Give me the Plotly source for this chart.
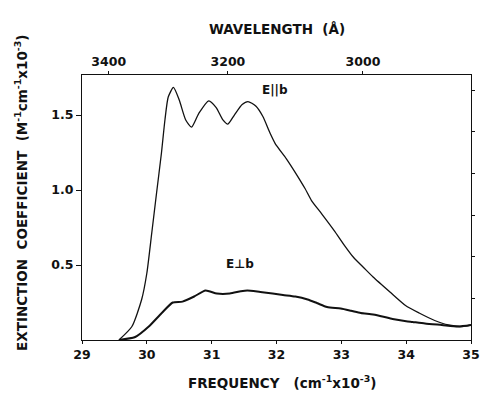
import plotly.graph_objects as go

# Data (frequency in cm^-1 x 10^-3, extinction in M^-1 cm^-1 x 10^-3)
freq_par = [29.57, 29.77, 29.92, 30.00, 30.075, 30.15, 30.225, 30.28, 30.33, 30.41,
            30.50, 30.60, 30.69, 30.80, 30.955, 31.07, 31.17, 31.25, 31.35,
            31.47, 31.56, 31.68, 31.79, 31.90, 31.98, 32.15, 32.30, 32.44, 32.54,
            32.70, 32.89, 33.05, 33.19, 33.35, 33.49, 33.75, 33.99, 34.20, 34.44,
            34.65, 34.85, 35.00]
eps_par = [0.00, 0.09, 0.27, 0.445, 0.71, 0.98, 1.245, 1.47, 1.62, 1.684,
           1.60, 1.467, 1.42, 1.51, 1.595, 1.55, 1.47, 1.44, 1.50,
           1.57, 1.59, 1.56, 1.49, 1.38, 1.31, 1.21, 1.11, 1.01, 0.93,
           0.84, 0.73, 0.63, 0.55, 0.48, 0.42, 0.32, 0.23, 0.18, 0.13,
           0.10, 0.09, 0.10]

freq_perp = [29.57, 29.82, 30.03, 30.23, 30.40, 30.55, 30.73, 30.905, 31.08,
             31.28, 31.45, 31.55, 31.75, 31.94, 32.10, 32.29,
             32.48, 32.63, 32.78, 32.99, 33.15, 33.30, 33.49, 33.65, 33.79, 34.00,
             34.10, 34.29, 34.55, 34.80, 35.00]
eps_perp = [0.00, 0.02, 0.09, 0.18, 0.25, 0.256, 0.29, 0.33, 0.31,
            0.31, 0.325, 0.33, 0.32, 0.31, 0.30, 0.29,
            0.27, 0.245, 0.22, 0.21, 0.195, 0.18, 0.17, 0.155, 0.14, 0.125,
            0.12, 0.11, 0.10, 0.09, 0.10]

freq_ticks = [29, 30, 31, 32, 33, 34, 35]
y_ticks = [0.5, 1.0, 1.5]
wavelength_ticks = [3400, 3200, 3000]
right_tick_vals = [0.28, 0.555, 0.833, 1.11, 1.39, 1.665]

FONT = "DejaVu Sans"
black = "#111111"

fig = go.Figure()
fig.add_trace(go.Scatter(x=freq_par, y=eps_par, mode="lines",
                         line=dict(color=black, width=1.3, shape="spline", smoothing=0.6),
                         showlegend=False))
fig.add_trace(go.Scatter(x=freq_perp, y=eps_perp, mode="lines",
                         line=dict(color=black, width=2.0, shape="spline", smoothing=0.6),
                         showlegend=False))
# invisible traces to activate top / right axes
fig.add_trace(go.Scatter(x=[freq_ticks[0]], y=[0], xaxis="x2", mode="markers",
                         marker=dict(opacity=0), showlegend=False, hoverinfo="skip"))
fig.add_trace(go.Scatter(x=[freq_ticks[0]], y=[0], yaxis="y2", mode="markers",
                         marker=dict(opacity=0), showlegend=False, hoverinfo="skip"))

xr = [freq_ticks[0], freq_ticks[-1]]
yr = [0, 1.767]
tickfont = dict(family=FONT, size=12.5, color=black, weight="bold")

fig.update_layout(
    width=491, height=397,
    margin=dict(l=82, r=11, t=75, b=57),
    paper_bgcolor="white", plot_bgcolor="white",
    xaxis=dict(range=xr, tickvals=freq_ticks, ticktext=[str(t) for t in freq_ticks],
               ticks="outside", ticklen=3, tickcolor=black, tickwidth=1,
               showline=True, linecolor=black, linewidth=1.3, showgrid=False,
               zeroline=False, tickfont=tickfont),
    xaxis2=dict(range=xr, overlaying="x", side="top",
                tickvals=[1e5 / w for w in wavelength_ticks],
                ticktext=[str(w) for w in wavelength_ticks],
                ticks="outside", ticklen=3, tickcolor=black,
                showline=True, linecolor=black, linewidth=1.3, showgrid=False,
                zeroline=False, tickfont=tickfont),
    yaxis=dict(range=yr, tickvals=y_ticks, ticktext=["%.1f" % v for v in y_ticks],
               ticks="outside", ticklen=5, tickcolor=black,
               showline=True, linecolor=black, linewidth=1.3, showgrid=False,
               zeroline=False, tickfont=tickfont),
    yaxis2=dict(range=yr, overlaying="y", side="right", tickvals=right_tick_vals,
                showticklabels=False, ticks="outside", ticklen=3, tickcolor=black,
                showline=True, linecolor=black, linewidth=1.3, showgrid=False,
                zeroline=False),
)

title_font = dict(family=FONT, size=13.5, color=black, weight="bold")
fig.add_annotation(text="WAVELENGTH\u00a0\u00a0(Å)", xref="paper", yref="paper",
                   x=0.5025, y=1.21, showarrow=False, font=title_font)
fig.add_annotation(text="FREQUENCY\u00a0\u00a0\u00a0(cm<sup>-1</sup>x10<sup>-3</sup>)",
                   xref="paper", yref="paper", x=0.515, y=-0.20, showarrow=False,
                   font=title_font)
fig.add_annotation(text="EXTINCTION\u00a0\u00a0COEFFICIENT\u00a0\u00a0(M<sup>-1</sup>cm<sup>-1</sup>x10<sup>-3</sup>)",
                   xref="paper", yref="paper", x=-0.185, y=0.555, textangle=-90,
                   showarrow=False, font=dict(family=FONT, size=13.5, color=black, weight="bold"))
fig.add_annotation(text="E||b", x=31.98, y=1.67, showarrow=False,
                   font=dict(family=FONT, size=12, color=black, weight="bold"))
fig.add_annotation(text="E\u22a5b", x=31.44, y=0.51, showarrow=False,
                   font=dict(family=FONT, size=12, color=black, weight="bold"))

fig.write_html("out.html")
